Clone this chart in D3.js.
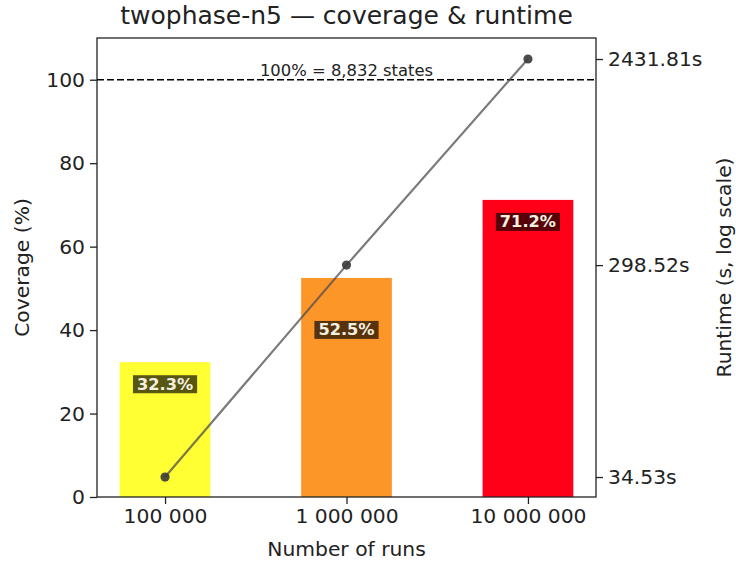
<!DOCTYPE html>
<html><head><meta charset="utf-8">
<script src="https://cdn.jsdelivr.net/npm/d3@7"></script>
<style>body{margin:0;background:#fff;} svg{display:block;} text{font-family:"DejaVu Sans",sans-serif;}</style>
</head><body>
<svg id="c" width="736" height="562"></svg>
<script>
const categories = ["100 000", "1 000 000", "10 000 000"];
const coverage = [32.3, 52.5, 71.2];
const runtimes = [34.53, 298.52, 2431.81];
const barColors = ["#ffff33", "#fd9628", "#ff0018"];
const yTicks = [0, 20, 40, 60, 80, 100];
const totalStates = "8,832";

const svg = d3.select("#c");
const L = 97, R = 596, T = 38, B = 497;
const x = d3.scaleLinear().domain([-0.375, 2.375]).range([L, R]);
const y = d3.scaleLinear().domain([0, 110]).range([B, T]);
const yr = d3.scaleLog().domain([28.18, 3012]).range([B, T]);
const bw = 0.5;
const fs = 20.3;

// bars
svg.selectAll("rect.bar").data(coverage).enter().append("rect")
  .attr("x", (d, i) => x(i - bw / 2)).attr("width", (d, i) => x(i + bw / 2) - x(i - bw / 2))
  .attr("y", d => y(d)).attr("height", d => y(0) - y(d))
  .attr("fill", (d, i) => barColors[i]);

// 100% line
svg.append("line").attr("x1", L).attr("x2", R).attr("y1", y(100)).attr("y2", y(100))
  .attr("stroke", "#000").attr("stroke-width", 1.5).attr("stroke-dasharray", "7,3");
svg.append("text").attr("x", (L + R) / 2).attr("y", y(100) - 4).attr("text-anchor", "middle")
  .attr("font-size", 16.4).attr("fill", "#222").text("100% = " + totalStates + " states");

// runtime line
const line = d3.line().x((d, i) => x(i)).y(d => yr(d));
svg.append("path").datum(runtimes).attr("d", line).attr("fill", "none")
  .attr("stroke", "#4d4d4d").attr("stroke-opacity", 0.75).attr("stroke-width", 2.2);
svg.selectAll("circle.pt").data(runtimes).enter().append("circle")
  .attr("cx", (d, i) => x(i)).attr("cy", d => yr(d)).attr("r", 4.6)
  .attr("fill", "#3a3a3a").attr("fill-opacity", 0.9);

// bar labels
const labelOffsets = [22, 52, 22];
coverage.forEach((v, i) => {
  const g = svg.append("g");
  const t = g.append("text").attr("x", x(i)).attr("y", y(v) + labelOffsets[i])
    .attr("text-anchor", "middle").attr("dominant-baseline", "central")
    .attr("font-size", 16.2).attr("font-weight", "bold").attr("fill", "#f4f0e0")
    .text(v.toFixed(1) + "%");
  const bb = t.node().getBBox();
  g.insert("rect", "text").attr("x", bb.x - 4).attr("y", bb.y + 0.5).attr("width", bb.width + 8)
    .attr("height", bb.height - 1).attr("fill", "#000").attr("fill-opacity", 0.66);
});

// axes
const xAxis = d3.axisBottom(x).tickValues([0, 1, 2]).tickFormat(i => categories[i]).tickSize(7).tickPadding(5);
const gx = svg.append("g").attr("transform", `translate(0,${B})`).call(xAxis);
const gy = svg.append("g").attr("transform", `translate(${L},0)`)
  .call(d3.axisLeft(y).tickValues(yTicks).tickSize(7).tickPadding(5));
const gr = svg.append("g").attr("transform", `translate(${R},0)`)
  .call(d3.axisRight(yr).tickValues(runtimes).tickFormat(d => d.toFixed(2) + "s").tickSize(7).tickPadding(5));
[gx, gy, gr].forEach(g => {
  g.select(".domain").remove();
  g.selectAll("text").attr("font-size", fs).attr("fill", "#222").attr("font-family", "DejaVu Sans");
  g.selectAll("line").attr("stroke", "#222").attr("stroke-width", 1.3);
});
svg.append("rect").attr("x", L).attr("y", T).attr("width", R - L).attr("height", B - T)
  .attr("fill", "none").attr("stroke", "#222").attr("stroke-width", 1.3);

// labels
svg.append("text").attr("x", (L + R) / 2).attr("y", 24).attr("text-anchor", "middle")
  .attr("font-size", 25).attr("fill", "#222").text("twophase-n5 — coverage & runtime");
svg.append("text").attr("x", (L + R) / 2).attr("y", 556).attr("text-anchor", "middle")
  .attr("font-size", fs).attr("fill", "#222").text("Number of runs");
svg.append("text").attr("transform", `translate(29,${(T + B) / 2}) rotate(-90)`).attr("text-anchor", "middle")
  .attr("font-size", fs).attr("fill", "#222").text("Coverage (%)");
svg.append("text").attr("transform", `translate(731,${(T + B) / 2}) rotate(-90)`).attr("text-anchor", "middle")
  .attr("font-size", fs).attr("fill", "#222").text("Runtime (s, log scale)");
</script>
</body></html>
